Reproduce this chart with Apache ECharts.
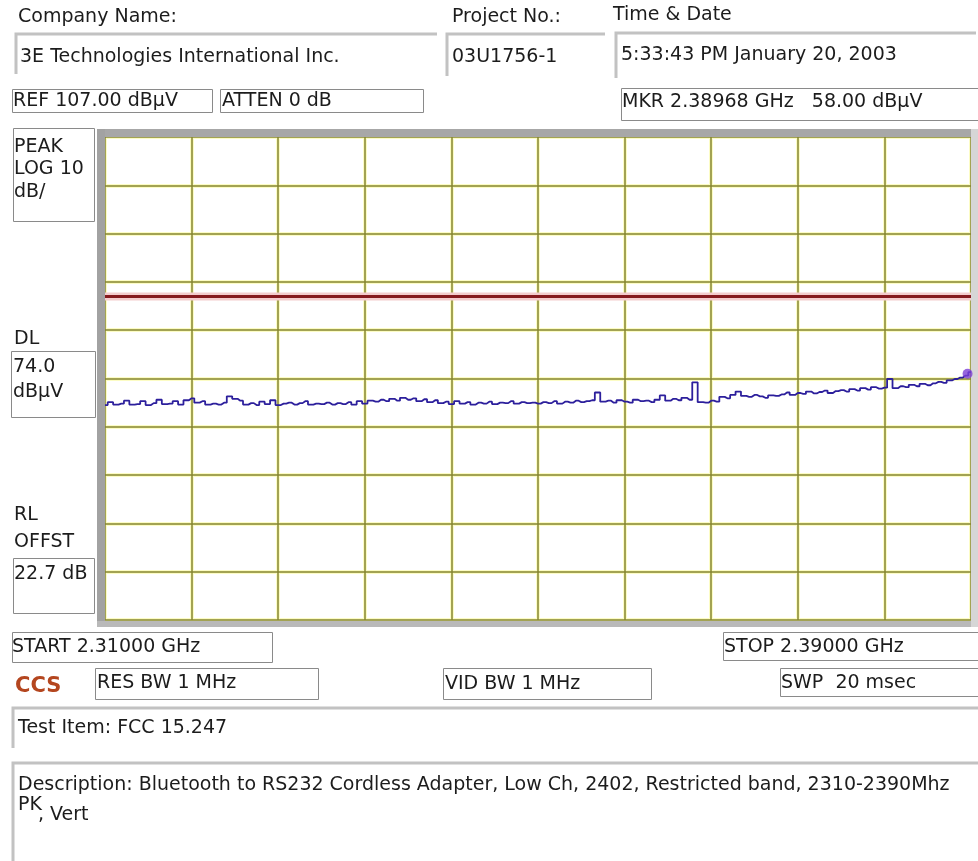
<!DOCTYPE html>
<html><head><meta charset="utf-8">
<script src="https://cdn.jsdelivr.net/npm/echarts@6.0.0/dist/echarts.min.js"></script>
<style>html,body{margin:0;padding:0;background:#fff}#c{width:978px;height:861px}</style>
</head><body><div id="c"></div>
<script>
// ---- instrument settings / data ----
const START_MHZ = 2310;
const STOP_MHZ = 2390;
const REF_LEVEL = 107;      // dBµV at top graticule line
const DB_PER_DIV = 10;
const DIVISIONS = 10;
const DISPLAY_LINE = 74.0;  // DL in dBµV
const MARKER_FREQ = 2389.68;
const MARKER_LEVEL = 58.00;

// peak trace (dBµV), 161 sweep points from START to STOP
const traceValues = [
  51.5, 52.1, 51.6, 51.8, 52.4, 51.6, 51.7, 52.3, 51.5, 51.9,
  52.6, 51.7, 51.8, 52.3, 51.6, 52.5, 52.9, 52.0, 52.3, 51.6,
  51.8, 51.6, 52.0, 53.3, 52.8, 52.4, 51.6, 51.9, 51.5, 52.2,
  51.7, 52.5, 51.5, 51.8, 52.0, 51.6, 51.9, 52.3, 51.6, 51.8,
  51.7, 52.0, 51.6, 51.9, 51.7, 52.1, 51.6, 52.3, 51.8, 52.4,
  52.2, 52.6, 52.3, 52.8, 52.4, 53.0, 52.6, 52.9, 52.3, 52.7,
  52.1, 52.5, 51.9, 52.2, 51.7, 52.3, 51.8, 52.1, 51.6, 52.0,
  51.8, 52.2, 51.7, 52.0, 51.9, 52.3, 51.8, 52.1, 51.9, 52.0,
  51.8, 52.1, 51.9, 52.3, 51.8, 52.2, 52.0, 52.4, 52.1, 52.3,
  52.5, 54.1, 52.2, 52.4, 52.0, 52.5, 52.2, 52.0, 52.6, 52.3,
  52.4, 52.1, 52.6, 53.5, 52.4, 52.8, 52.5, 53.0, 52.6, 56.2,
  52.1, 52.0, 52.4, 52.2, 53.2, 52.9, 53.6, 54.3, 53.4, 53.2,
  53.6, 53.3, 53.0, 53.5, 53.4, 53.7, 54.1, 53.6, 54.0, 53.8,
  54.3, 53.9, 54.2, 54.5, 54.0, 54.4, 54.6, 54.3, 54.8, 54.5,
  55.0, 54.7, 55.2, 54.9, 55.1, 56.9, 55.0, 55.4, 55.2, 55.7,
  55.4, 55.9, 55.6, 56.0, 56.3, 56.1, 56.6, 56.9, 57.2, 57.6,
  58.3
];

// ---- texts ----
const headerLabels = ['Company Name:', 'Project No.:', 'Time & Date'];
const headerValues = ['3E Technologies International Inc.', '03U1756-1', '5:33:43 PM January 20, 2003'];
const refText = 'REF 107.00 dB\u00b5V';
const attenText = 'ATTEN 0 dB';
const markerText = 'MKR 2.38968 GHz   58.00 dB\u00b5V';
const scaleTexts = ['PEAK', 'LOG 10', 'dB/'];
const dlTexts = ['DL', '74.0', 'dB\u00b5V'];
const rlTexts = ['RL', 'OFFST', '22.7 dB'];
const startText = 'START 2.31000 GHz';
const stopText = 'STOP 2.39000 GHz';
const rbwText = 'RES BW 1 MHz';
const vbwText = 'VID BW 1 MHz';
const swpText = 'SWP  20 msec';
const testItemText = 'Test Item: FCC 15.247';
const descText = 'Description: Bluetooth to RS232 Cordless Adapter, Low Ch, 2402, Restricted band, 2310-2390Mhz';
const descText2a = 'PK';
const descText2b = ', Vert';

// ---- build ----
const step = (STOP_MHZ - START_MHZ) / (traceValues.length - 1);
const traceData = traceValues.map((v, i) => [START_MHZ + i * step, v]);
const FONT = '19px "DejaVu Sans"';
const TXT = '#1c1c1c';

function txt(s, x, y, font, fill) {
  return { type: 'text', z: 120, style: { text: s, x: x, y: y, font: font || FONT, fill: fill || TXT, textVerticalAlign: 'middle', verticalAlign: 'middle' } };
}
function box(x, y, w, h) {
  return { type: 'rect', z: 110, shape: { x: x + 0.5, y: y + 0.5, width: w, height: h }, style: { fill: '#fff', stroke: '#8a8a8a', lineWidth: 1 } };
}
function sunken(x, y, w, h) {
  return { type: 'polyline', z: 110, shape: { points: [[x, y + h], [x, y], [x + w, y]] }, style: { fill: null, stroke: '#c2c2c2', lineWidth: 3 } };
}

const g = [];
// header
g.push(txt(headerLabels[0], 18, 17));
g.push(sunken(16, 34, 421, 40));
g.push(txt(headerValues[0], 20, 57));
g.push(txt(headerLabels[1], 452, 17));
g.push(sunken(447, 34, 158, 42));
g.push(txt(headerValues[1], 452, 57));
g.push(txt(headerLabels[2], 613, 15));
g.push(sunken(616, 33, 360, 45));
g.push(txt(headerValues[2], 621, 55));
g.push(box(12, 89, 200, 23)); g.push(txt(refText, 13, 101));
g.push(box(220, 89, 203, 23)); g.push(txt(attenText, 222, 101));
g.push(box(621, 88, 360, 32)); g.push(txt(markerText, 622, 102));
// plot frame (sunken bezel)
g.push({ type: 'rect', z: 2, shape: { x: 97, y: 129, width: 881, height: 8 }, style: { fill: '#a7a7a7' } });
g.push({ type: 'rect', z: 2, shape: { x: 97, y: 129, width: 8, height: 498 }, style: { fill: '#a2a2a2' } });
g.push({ type: 'rect', z: 2, shape: { x: 97, y: 621, width: 881, height: 6 }, style: { fill: '#b9b9b9' } });
g.push({ type: 'rect', z: 2, shape: { x: 971, y: 129, width: 7, height: 498 }, style: { fill: '#d6d6d6' } });
// left panel
g.push(box(13, 128, 81, 93));
g.push(txt(scaleTexts[0], 14, 147)); g.push(txt(scaleTexts[1], 14, 169)); g.push(txt(scaleTexts[2], 14, 192));
g.push(txt(dlTexts[0], 14, 339));
g.push(box(11, 351, 84, 66));
g.push(txt(dlTexts[1], 13, 367)); g.push(txt(dlTexts[2], 13, 392));
g.push(txt(rlTexts[0], 14, 515)); g.push(txt(rlTexts[1], 14, 542));
g.push(box(13, 558, 81, 55));
g.push(txt(rlTexts[2], 14, 574));
// bottom rows
g.push(box(12, 632, 260, 30)); g.push(txt(startText, 12, 647));
g.push(box(723, 632, 255, 28)); g.push(txt(stopText, 724, 647));
g.push(txt('CCS', 15, 687, 'bold 21px "DejaVu Sans"', '#b4461f'));
g.push(box(95, 668, 223, 31)); g.push(txt(rbwText, 97, 683));
g.push(box(443, 668, 208, 31)); g.push(txt(vbwText, 445, 684));
g.push(box(780, 668, 200, 28)); g.push(txt(swpText, 781, 683));
g.push(sunken(13, 708, 965, 40)); g.push(txt(testItemText, 18, 728));
g.push(sunken(13, 763, 965, 100)); g.push(txt(descText, 18, 785));
g.push(txt(descText2a, 18, 805)); g.push(txt(descText2b, 38, 815));

const chart = echarts.init(document.getElementById('c'), null, { renderer: 'canvas' });
const gridAxis = (color, width, z) => ({
  type: 'value', min: 0, max: DIVISIONS, interval: 1, z: z,
  axisLine: { show: false }, axisTick: { show: false }, axisLabel: { show: false },
  splitLine: { show: true, lineStyle: { color: color, width: width } }
});
chart.setOption({
  animation: false,
  backgroundColor: '#ffffff',
  grid: { left: 105, right: 7, top: 137, bottom: 241, containLabel: false, show: true, backgroundColor: '#ffffff', borderWidth: 0 },
  xAxis: [
    { type: 'value', min: START_MHZ, max: STOP_MHZ, show: false },
    gridAxis('#fcfcc4', 4, 0),
    gridAxis('#86862e', 1.5, 1)
  ],
  yAxis: [
    { type: 'value', min: REF_LEVEL - DB_PER_DIV * DIVISIONS, max: REF_LEVEL, show: false },
    gridAxis('#fcfcc4', 4, 0),
    gridAxis('#86862e', 1.5, 1)
  ],
  series: [
    { type: 'line', xAxisIndex: 0, yAxisIndex: 0, data: [[START_MHZ, DISPLAY_LINE], [STOP_MHZ, DISPLAY_LINE]], symbol: 'none', lineStyle: { color: '#f4cdcd', width: 8 }, z: 3, silent: true },
    { type: 'line', xAxisIndex: 0, yAxisIndex: 0, data: [[START_MHZ, DISPLAY_LINE], [STOP_MHZ, DISPLAY_LINE]], symbol: 'none', lineStyle: { color: '#861b1e', width: 3 }, z: 4, silent: true },
    { type: 'line', xAxisIndex: 0, yAxisIndex: 0, data: traceData, step: 'middle', symbol: 'none', lineStyle: { color: '#2c1f9c', width: 1.8 }, z: 5 },
    { type: 'scatter', xAxisIndex: 0, yAxisIndex: 0, data: [[MARKER_FREQ, MARKER_LEVEL]], symbol: 'circle', symbolSize: 10, clip: false, itemStyle: { color: '#7a3fd4' }, z: 6 }
  ],
  graphic: g
});
</script></body></html>
